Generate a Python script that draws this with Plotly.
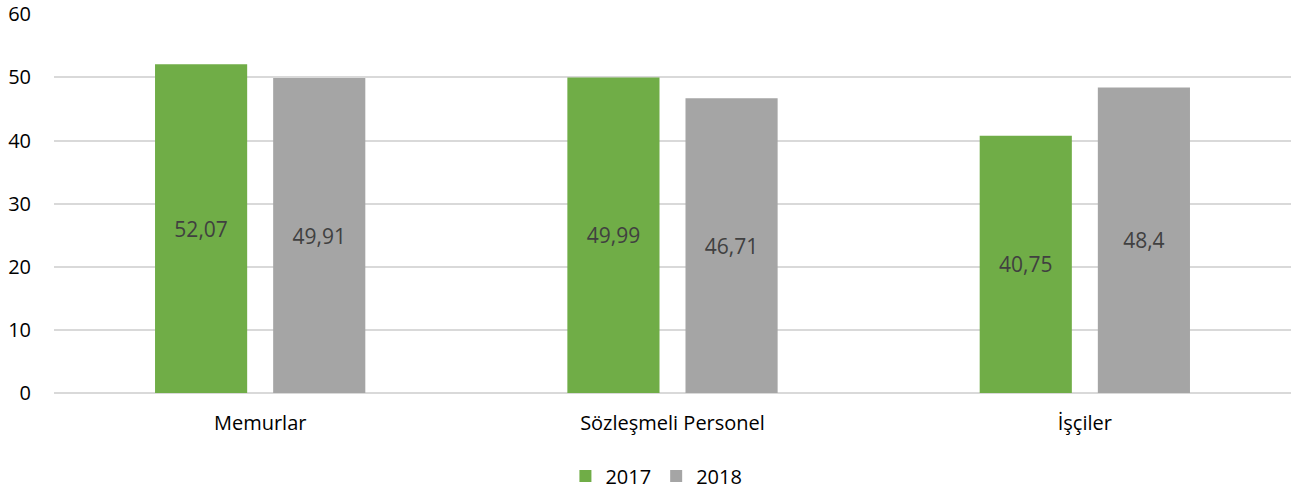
import plotly.graph_objects as go

categories = ["Memurlar", "Sözleşmeli Personel", "İşçiler"]
values_2017 = [52.07, 49.99, 40.75]
values_2018 = [49.91, 46.71, 48.4]
labels_2017 = ["52,07", "49,99", "40,75"]
labels_2018 = ["49,91", "46,71", "48,4"]

FONT = "'Open Sans', sans-serif"
FS = 20

fig = go.Figure()
fig.add_trace(go.Bar(name="2017", x=categories, y=values_2017, text=labels_2017,
                     textposition="inside", insidetextanchor="middle",
                     textfont=dict(color="#404040", size=21, family=FONT),
                     marker=dict(color="#70AD47", line=dict(width=0))))
fig.add_trace(go.Bar(name="2018", x=categories, y=values_2018, text=labels_2018,
                     textposition="inside", insidetextanchor="middle",
                     textfont=dict(color="#404040", size=21, family=FONT),
                     marker=dict(color="#A5A5A5", line=dict(width=0))))

fig.update_layout(
    width=1293, height=491,
    margin=dict(l=54, r=2, t=14, b=98, autoexpand=False),
    paper_bgcolor="white", plot_bgcolor="white",
    barmode="group", bargap=0.427, bargroupgap=0.22,
    font=dict(family=FONT, size=FS, color="#000000"),
    legend=dict(orientation="h", x=0.487, xanchor="center", y=-0.219, yanchor="middle",
                font=dict(size=FS), traceorder="normal", itemwidth=30),
    xaxis=dict(showgrid=False, showline=False, ticks="", tickfont=dict(size=FS),
               automargin=False, ticklabelstandoff=16),
    yaxis=dict(range=[0, 60.05], tickvals=[0, 10, 20, 30, 40, 50, 60],
               showgrid=True, gridcolor="#D9D9D9", gridwidth=1.5,
               zeroline=True, zerolinecolor="#D9D9D9", zerolinewidth=1.5, automargin=False,
               ticklabeloverflow="allow",
               showline=False, ticks="", tickfont=dict(size=FS), ticklabelstandoff=22),
)

fig.write_html("out.html", config={"displayModeBar": False},
               post_script="document.body.style.margin='0';document.body.style.overflow='hidden';")
